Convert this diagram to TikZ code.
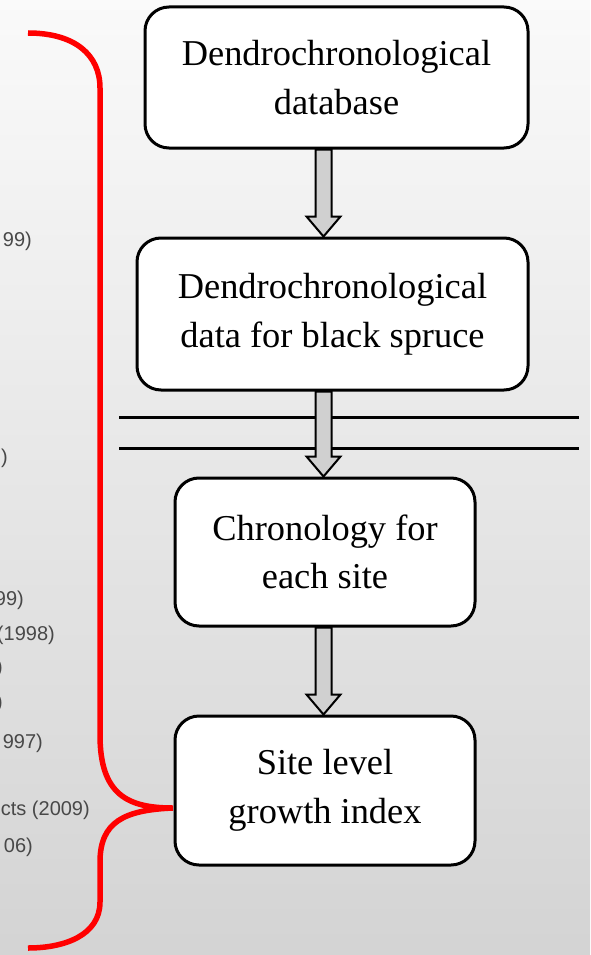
\documentclass[tikz,border=0pt]{standalone}
\usepackage{fontspec}
\setmainfont{Liberation Serif}
\newfontfamily\refsans{Liberation Sans}
\usetikzlibrary{calc}

\definecolor{arrowgray}{HTML}{D0D0D0}
\definecolor{bracered}{HTML}{FF0000}
\definecolor{citegray}{HTML}{484848}

\tikzset{
  flowbox/.style={draw=black, line width=3pt, fill=white, rounded corners=24pt,
    inner sep=0pt, align=center, font=\fontsize{36.4}{48.5}\selectfont},
  blockarrow/.style={draw=black, line width=2pt, fill=arrowgray, line join=miter},
  cite/.style={anchor=east, inner sep=0pt, text=citegray, font=\refsans\fontsize{20}{24}\selectfont},
  brace/.style={draw=bracered, line width=5.5pt, line cap=butt},
  rule/.style={draw=black, line width=3pt}
}

% block arrow straight down along x-position #1, from anchor #2 to anchor #3
\newcommand\downblockarrow[3]{%
  \draw[blockarrow] let \p1=(#1 |- #2), \p2=(#1 |- #3) in
    (\x1-8pt,\y1) -- (\x1-8pt,\y2+20pt) -- (\x1-17pt,\y2+20pt) --
    (\x1,\y2) -- (\x1+17pt,\y2+20pt) -- (\x1+8pt,\y2+20pt) --
    (\x1+8pt,\y1) -- cycle;}

\begin{document}
\begin{tikzpicture}[x=1pt, y=-1pt]
  \useasboundingbox (0,0) rectangle (590,955);
  \clip (0,0) rectangle (590,955);
  \shade[top color=black!2, bottom color=black!17] (0,0) rectangle (590,955);

  % cut-off citation column on the left
  \node[cite] (c1) at (32,241) {99)};
  \node[cite] (c2) at (8,458) {)};
  \node[cite] (c3) at (24,600) {99)};
  \node[cite] (c4) at (55,635) {(1998)};
  \node[cite] (c5) at (3,668) {)};
  \node[cite] (c6) at (3,703) {)};
  \node[cite] (c7) at (43,743) {997)};
  \node[cite] (c8) at (90,810) {cts (2009)};
  \node[cite] (c9) at (33,847) {06)};

  % flow boxes
  \node[flowbox, minimum width=383pt, minimum height=141pt] (b1) at (336.5,77.5)
    {Dendrochronological\\database};
  \node[flowbox, minimum width=391pt, minimum height=152pt] (b2) at (332.5,314)
    {Dendrochronological\\data for black spruce};
  \node[flowbox, minimum width=300pt, minimum height=148pt] (b3) at (325,552)
    {Chronology for\\each site};
  \node[flowbox, minimum width=300pt, minimum height=149pt] (b4) at (325,790.5)
    {Site level\\growth index};

  % double rule across the flow
  \coordinate (r1a) at (119,417);
  \coordinate (r1b) at (579,417);
  \coordinate (r2a) at (119,448);
  \coordinate (r2b) at (579,448);
  \draw[rule] (r1a) -- (r1b);
  \draw[rule] (r2a) -- (r2b);

  % arrows between boxes
  \coordinate (ax) at (323.5,0);
  \downblockarrow{ax}{b1.south}{b2.north}
  \downblockarrow{ax}{b2.south}{b3.north}
  \downblockarrow{ax}{b3.south}{b4.north}

  % red curly brace pointing at the last box
  \coordinate (bt) at (28,33);
  \coordinate (tip) at (173,808);
  \coordinate (bb) at (28,948);
  \draw[brace] (bt) .. controls (75,33) and (100,55) .. (100,88)
    -- (100,735) .. controls (100,795) and (128,808) .. (tip)
    .. controls (124,810) and (100,822) .. (100,862)
    -- (100,902) .. controls (100,935) and (65,948) .. (bb);
\end{tikzpicture}
\end{document}
